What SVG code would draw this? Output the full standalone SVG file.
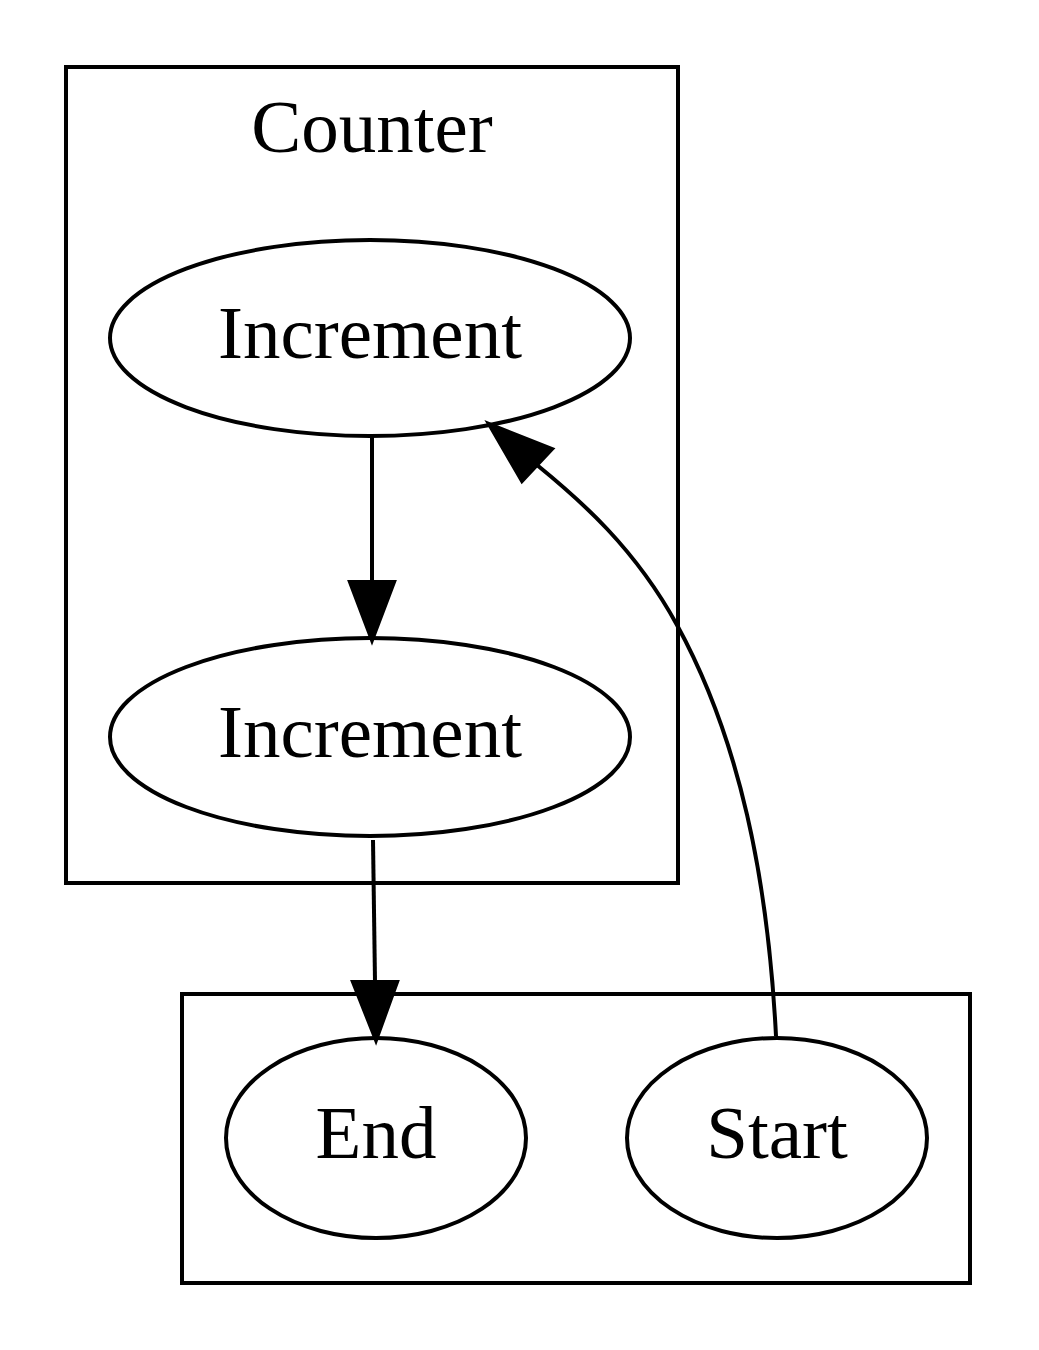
<svg xmlns="http://www.w3.org/2000/svg" width="1039" height="1350" viewBox="0 0 1039 1350">
<style>
.shape{fill:none;stroke:#000;stroke-width:4}
.edge{fill:none;stroke:#000;stroke-width:4}
.head{fill:#000;stroke:#000;stroke-width:4}
text{font-family:"Liberation Serif","Times New Roman",serif;font-size:75px;fill:#000;text-anchor:middle}
</style>
<rect width="1039" height="1350" fill="#fff"/>
<g id="cluster_counter">
<rect class="shape" x="66" y="67" width="612" height="816"/>
<text x="372" y="152">Counter</text>
</g>
<g id="cluster_2">
<rect class="shape" x="182" y="994" width="788" height="289"/>
</g>
<g id="node_increment1">
<ellipse class="shape" cx="370" cy="338" rx="260" ry="98"/>
<text x="370" y="358">Increment</text>
</g>
<g id="node_increment2">
<ellipse class="shape" cx="370" cy="737" rx="260" ry="99"/>
<text x="370" y="757">Increment</text>
</g>
<g id="node_end">
<ellipse class="shape" cx="376" cy="1138" rx="150" ry="100"/>
<text x="376" y="1158">End</text>
</g>
<g id="node_start">
<ellipse class="shape" cx="777" cy="1138" rx="150" ry="100"/>
<text x="777" y="1158">Start</text>
</g>
<g id="edges">
<path class="edge" d="M372,437 L372,582"/>
<polygon class="head" points="350,582 394,582 372,640"/>
<path class="edge" d="M373,840 L375,982"/>
<polygon class="head" points="353,982 397,982 376,1040"/>
<path class="edge" d="M776,1036 C768,880 740,740 677,625 C635,548 580,500 537,465"/>
<polygon class="head" points="552,449 522,481 489,424"/>
</g>
</svg>
